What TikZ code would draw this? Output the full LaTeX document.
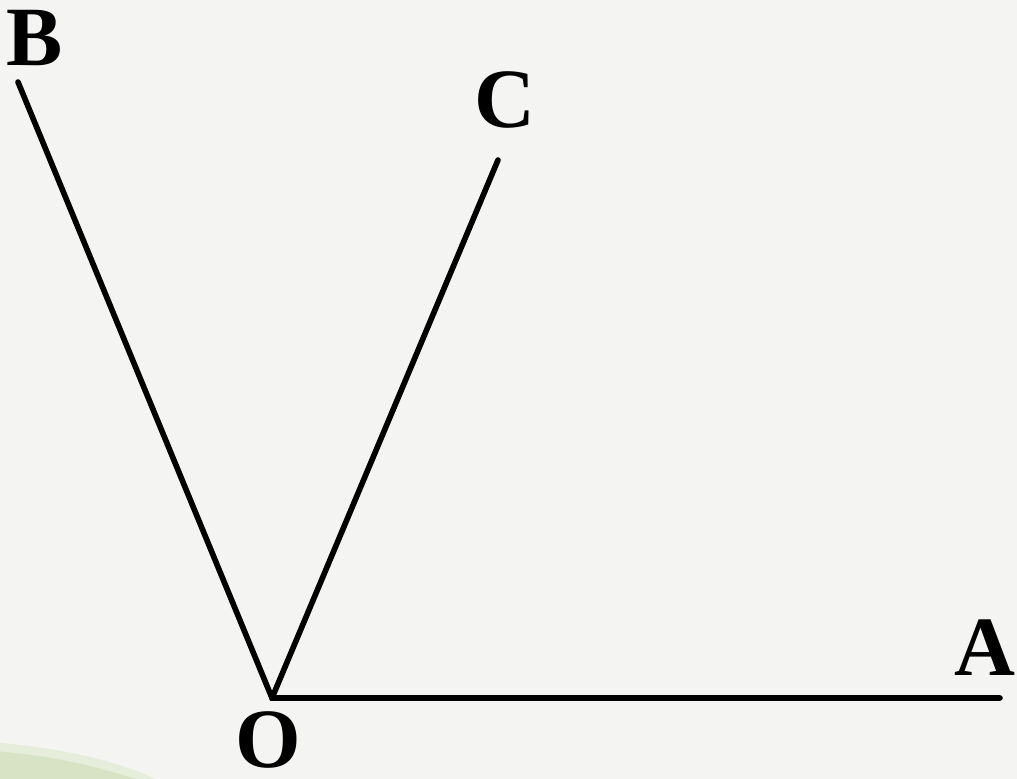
\documentclass[tikz,border=0pt]{standalone}
\usepackage{fontspec}
\setmainfont{Liberation Serif}
\usepackage{xcolor}
\usetikzlibrary{calc}
\definecolor{figBack}{HTML}{F4F4F2}
\definecolor{figGreenLight}{HTML}{E6EDDA}
\definecolor{figGreen}{HTML}{D8E3C6}

\begin{document}
\begin{tikzpicture}[
  ray/.style={line width=3.2pt, line cap=round, black},
  lab/.style={font=\fontsize{48}{48}\selectfont\bfseries, inner sep=0pt},
]
% Background
\fill[figBack] (0, 0) rectangle (20.34, 15.58);
\useasboundingbox (0, 0) rectangle (20.34, 15.58);
\fill[figGreenLight] (0, 0.72) .. controls (1.2, 0.62) and (2.4, 0.35) .. (3.1, 0) -- (0, 0) -- cycle;
\fill[figGreen] (0, 0.55) .. controls (1.2, 0.45) and (2.1, 0.2) .. (2.7, 0) -- (0, 0) -- cycle;

% Rays
\coordinate (O) at (5.44, 1.62);
\coordinate (A) at (20.0, 1.62);
\coordinate (B) at (0.36, 13.94);
\coordinate (C) at (9.96, 12.38);
\draw[ray] (A) -- (O) -- (B);
\draw[ray] (O) -- (C);

% Labels
\node[lab] (labB) at (0.70, 14.82) {B};
\node[lab] (labC) at (10.10, 13.58) {C};
\node[lab] (labA) at (19.70, 2.62) {A};
\node[lab] (labO) at (5.36, 0.78) {O};
\end{tikzpicture}
\end{document}
